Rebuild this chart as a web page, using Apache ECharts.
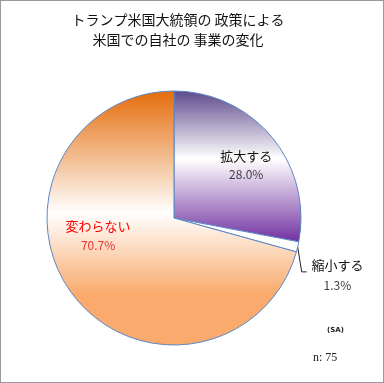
<!DOCTYPE html>
<html><head><meta charset="utf-8">
<script src="https://cdn.jsdelivr.net/npm/echarts@6/dist/echarts.min.js"></script>
<style>html,body{margin:0;padding:0;background:#fff}#c{width:384px;height:383px;box-sizing:border-box;border:1px solid #9a9a9a}</style>
</head><body><div id="c"></div>
<script>
const titleLines = ['トランプ米国大統領の 政策による', '米国での自社の 事業の変化'];
const categories = ['拡大する', '縮小する', '変わらない'];
const values = [28.0, 1.3, 70.7];
const noteSA = '(SA)';
const noteN = 'n: 75';

const chart = echarts.init(document.getElementById('c'), null, {renderer: 'canvas'});
const jp = '"Noto Sans CJK JP", sans-serif';
const grad = (stops) => ({type: 'linear', x: 0, y: 0, x2: 0, y2: 1, colorStops: stops.map(s => ({offset: s[0], color: s[1]}))});
const styles = [
  {color: grad([[0, '#5e4a8c'], [0.45, '#ffffff'], [1, '#7030a0']])},
  {color: '#ffffff'},
  {color: grad([[0, '#e46c0a'], [0.48, '#ffffff'], [0.8, '#f9aa6c'], [1, '#f9aa6c']])}
];
const fmt = (p) => '{a|' + p.name + '}\n{p|' + p.value.toFixed(1) + '%}';
const labelCfg = [
  {position: 'inside', formatter: fmt, rich: {a: {fontSize: 13, color: '#111', fontFamily: jp, lineHeight: 20}, p: {fontSize: 12, color: '#404040', fontFamily: jp, lineHeight: 18}}},
  {position: 'outside', formatter: fmt, rich: {a: {fontSize: 13, color: '#111', fontFamily: jp, lineHeight: 21, width: 56, align: 'center'}, p: {fontSize: 12, color: '#404040', fontFamily: jp, lineHeight: 19, width: 56, align: 'center'}}},
  {position: 'inside', formatter: fmt, rich: {a: {fontSize: 13, color: '#ff0000', fontFamily: jp, lineHeight: 20}, p: {fontSize: 12, color: '#f03030', fontFamily: jp, lineHeight: 18}}}
];
const shifts = [[21, -11], [-7, 26], [-23, -23]];

chart.setOption({
  animation: false,
  title: {
    text: titleLines.join('\n'), left: 172, top: 4, textAlign: 'center',
    textStyle: {fontSize: 14, fontWeight: 'normal', color: '#111', fontFamily: jp, lineHeight: 20}
  },
  graphic: [
    {type: 'text', left: 326, top: 326, style: {text: noteSA, fontSize: 7, fontWeight: 'bold', fill: '#222', fontFamily: 'DejaVu Sans'}},
    {type: 'text', left: 312, top: 351, style: {text: noteN, fontSize: 12, fill: '#222', fontFamily: '"Liberation Serif", serif'}}
  ],
  series: [{
    type: 'pie',
    center: [173, 217],
    radius: [0, 127],
    startAngle: 90,
    clockwise: true,
    avoidLabelOverlap: false,
    itemStyle: {borderColor: '#5b86c5', borderWidth: 1},
    labelLine: {show: true, length: 8, length2: 6, lineStyle: {color: '#222', width: 1}},
    labelLayout: (p) => {
      const r = {dx: shifts[p.dataIndex][0], dy: shifts[p.dataIndex][1]};
      if (p.dataIndex === 1 && p.labelLinePoints) {
        const s = p.labelLinePoints[0];
        const m = [s[0] + 4, s[1] + 25];
        r.labelLinePoints = [s, m, [m[0] + 5, m[1]]];
      }
      return r;
    },
    emphasis: {disabled: true},
    data: categories.map((n, i) => ({
      name: n, value: values[i],
      itemStyle: styles[i],
      label: labelCfg[i],
      labelLine: {show: i === 1}
    }))
  }]
});
</script></body></html>
